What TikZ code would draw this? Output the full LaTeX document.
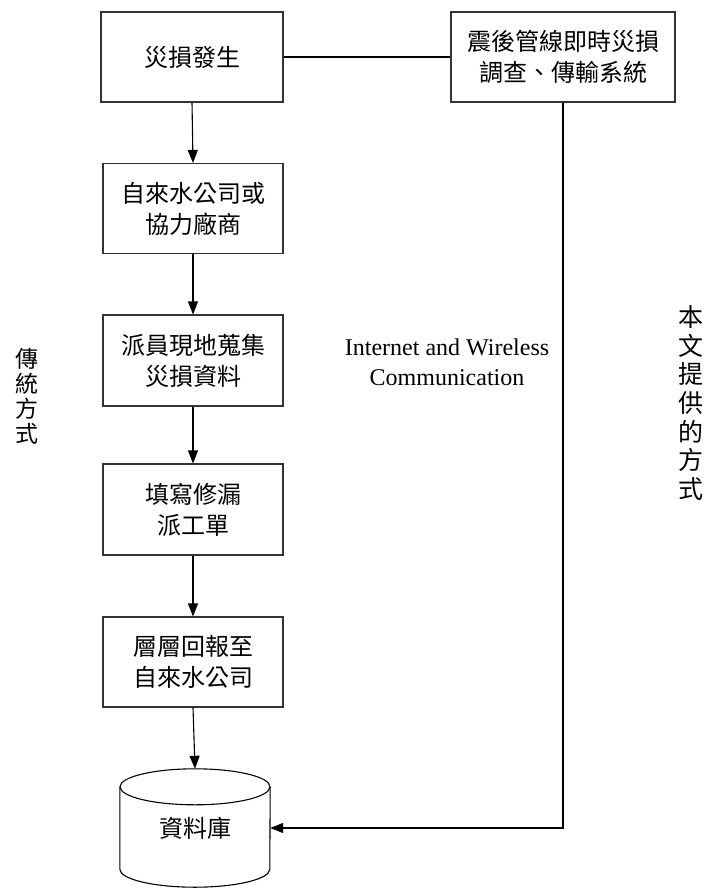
\documentclass[tikz,border=0pt]{standalone}
\usepackage{fontspec}
\setmainfont{Liberation Serif}
\newfontfamily\cjk{Noto Sans CJK TC}
\usetikzlibrary{arrows.meta,calc}
\begin{document}
\begin{tikzpicture}[x=1pt,y=-1pt,
  proc/.style={draw=black!80, line width=1.1pt, minimum width=180pt, minimum height=90pt,
    inner sep=0pt, align=center, font=\cjk\fontsize{24}{31}\selectfont},
  conn/.style={line width=1.1pt, -{Triangle[length=13pt,width=10pt]}},
  plain/.style={line width=1.1pt},
  vtext/.style={align=center, inner sep=0pt},
]
\useasboundingbox (0,0) rectangle (708,888);

\node[proc, minimum width=182pt] (b1) at (192,57) {災損發生};
\node[proc] (b2) at (193,208.5) {自來水公司或\\協力廠商};
\node[proc, minimum height=91pt] (b3) at (193,360.5) {派員現地蒐集\\災損資料};
\node[proc, minimum height=91pt] (b4) at (193,509.5) {填寫修漏\\派工單};
\node[proc] (b5) at (193,662) {層層回報至\\自來水公司};
\node[proc, minimum width=224pt] (r) at (563,57) {震後管線即時災損\\調查、傳輸系統};

% database cylinder
\node[minimum width=150pt, minimum height=118pt, inner sep=0pt,
      font=\cjk\fontsize{24}{31}\selectfont] (db) at (195,828) {\raisebox{-10pt}{資料庫}};
\draw[plain] ($(db.north west)+(0,18)$) -- ($(db.south west)+(0,-18)$)
   arc[start angle=180, end angle=0, x radius=75, y radius=18]
   -- ($(db.north east)+(0,18)$);
\draw[plain] ($(db.north)+(0,18)$) ellipse[x radius=75, y radius=18];

% connectors
\draw[plain] (b1.east) -- (r.west);
\draw[conn] (b1.south) -- (b2.north);
\draw[conn] (b2.south) -- (b3.north);
\draw[conn] (b3.south) -- (b4.north);
\draw[conn] (b4.south) -- (b5.north);
\draw[conn] (b5.south) -- (db.north);
\draw[conn] (r.south) |- (db.east);

% labels
\node[align=center, inner sep=0pt, font=\fontsize{24}{30}\selectfont] (net) at (447,362)
  {Internet and Wireless\\Communication};
\node[vtext, font=\cjk\fontsize{23}{25}\selectfont] (left) at (27,396) {傳\\統\\方\\式};
\node[vtext, font=\cjk\fontsize{25}{28.6}\selectfont] (right) at (691,403) {本\\文\\提\\供\\的\\方\\式};
\end{tikzpicture}
\end{document}
